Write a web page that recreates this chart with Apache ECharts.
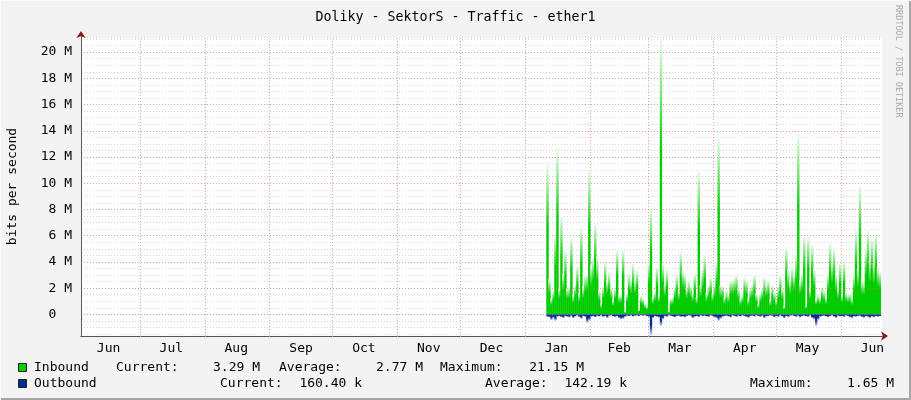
<!DOCTYPE html>
<html>
<head>
<meta charset="utf-8">
<script src="https://cdn.jsdelivr.net/npm/echarts@6/dist/echarts.min.js"></script>
<style>
html,body{margin:0;padding:0;background:#f3f3f3;}
#c{width:911px;height:400px;}
</style>
</head>
<body>
<div id="c"></div>
<script>
// ---- data ----
var titleText = 'Doliky - SektorS - Traffic - ether1';
var axisStart = '2012-06-02T20:00:00Z';
var axisEnd = '2013-06-20T14:00:00Z';
var dataStart = '2013-01-11T18:00:00Z';
var dataEnd = '2013-06-19T14:00:00Z';
var monthStarts = ['2012-07-01','2012-08-01','2012-09-01','2012-10-01','2012-11-01','2012-12-01','2013-01-01','2013-02-01','2013-03-01','2013-04-01','2013-05-01','2013-06-01'];
var monthLabelDates = ['2012-06-16','2012-07-16','2012-08-16','2012-09-16','2012-10-16','2012-11-16','2012-12-16','2013-01-16','2013-02-15','2013-03-16','2013-04-16','2013-05-16','2013-06-16'];
var monthLabels = ['Jun','Jul','Aug','Sep','Oct','Nov','Dec','Jan','Feb','Mar','Apr','May','Jun'];
// inbound, Mbit/s
var inbound = [
 11.5, 2.7, 1.2, 1.8, 6.2, 12.7, 2.0, 7.5, 3.1, 4.9, 2.0, 2.1, 5.9, 1.5, 2.3, 3.7, 1.6, 6.6, 2.1, 3.0, 3.1, 11.1, 3.7, 4.3, 7.0, 4.4, 1.8, 0.8, 2.1, 4.0, 2.6, 3.2, 2.1, 1.1, 2.0, 4.9, 1.5, 1.5, 4.9, 0.2, 1.6, 3.1,
 2.6, 3.9, 2.6, 3.4, 0.35, 1.4, 1.2, 0.8, 0.6, 4.0, 8.1, 1.3, 1.7, 3.6, 1.5, 21.15, 3.9, 2.3, 3.4, 0.2, 1.2, 1.3, 2.1, 3.0, 1.8, 4.8, 3.4, 3.1, 2.0, 2.6, 2.2, 1.6, 3.1, 1.3, 11.0, 2.2, 3.4, 4.5, 1.6, 2.2, 2.8, 1.6,
 2.3, 4.0, 13.5, 2.2, 2.2, 1.3, 1.8, 1.5, 2.6, 2.6, 2.8, 3.0, 2.0, 1.2, 1.5, 2.8, 2.6, 1.2, 2.0, 2.3, 3.0, 1.6, 0.8, 1.6, 2.0, 2.8, 2.3, 2.6, 1.1, 2.2, 1.7, 1.1, 2.1, 3.0, 2.0, 0.6, 5.1, 3.4, 2.6, 3.6, 3.1, 4.5,
 13.8, 2.6, 3.1, 6.0, 0.7, 5.9, 2.0, 5.3, 3.5, 1.2, 1.5, 1.3, 2.1, 1.8, 1.3, 3.1, 5.4, 4.0, 5.0, 3.1, 2.0, 3.9, 1.5, 4.0, 1.7, 1.5, 1.6, 1.2, 3.0, 6.4, 3.5, 9.8, 2.6, 2.5, 4.9, 6.4, 4.1, 5.8, 3.9, 6.2, 3.6, 3.29
];
// outbound, Mbit/s (drawn below zero)
var outbound = [
 0.20,0.25,0.45,0.30,0.50,0.20,0.15,0.25,0.30,0.15,
 0.20,0.25,0.12,0.30,0.18,0.10,0.22,0.35,0.15,0.20,
 0.66,0.50,0.20,0.15,0.25,0.12,0.18,0.10,0.20,0.15,
 0.28,0.12,0.10,0.18,0.22,0.15,0.30,0.40,0.35,0.20,
 0.12,0.15,0.10,0.18,0.12,0.10,0.15,0.08,0.12,0.10,
 0.15,0.20,1.65,0.30,0.15,0.20,0.25,0.90,0.40,0.15,
 0.20,0.10,0.12,0.18,0.25,0.15,0.12,0.20,0.18,0.25,
 0.15,0.10,0.12,0.30,0.20,0.15,0.22,0.10,0.15,0.12,
 0.18,0.20,0.10,0.15,0.25,0.30,0.50,0.35,0.20,0.15,
 0.12,0.18,0.25,0.10,0.15,0.20,0.12,0.18,0.10,0.15,
 0.22,0.28,0.15,0.12,0.18,0.10,0.15,0.20,0.12,0.30,
 0.18,0.15,0.10,0.12,0.25,0.15,0.20,0.10,0.18,0.30,
 0.15,0.22,0.12,0.10,0.15,0.20,0.12,0.25,0.15,0.12,
 0.18,0.20,0.10,0.30,0.40,0.90,0.45,0.20,0.15,0.12,
 0.18,0.25,0.15,0.10,0.20,0.28,0.12,0.18,0.15,0.20,
 0.10,0.15,0.25,0.30,0.18,0.20,0.15,0.12,0.22,0.28,
 0.15,0.20,0.30,0.18,0.25,0.15,0.20,0.16
];
var yMin = -1.65, yMax = 21.15;
var legendRows = [
  {name:'Inbound', cur:'3.29 M', avg:'2.77 M', max:'21.15 M'},
  {name:'Outbound', cur:'160.40 k', avg:'142.19 k', max:'1.65 M'}
];
var watermark = 'RRDTOOL / TOBI OETIKER';

// ---- build ----
var MONO = '"DejaVu Sans Mono", "Liberation Mono", monospace';
var M = 1e6;
var t0 = Date.parse(dataStart), t1 = Date.parse(dataEnd);
var step = (t1 - t0) / (inbound.length - 1);
var inData = inbound.map(function (v, i) { return [t0 + i * step, v * M]; });
var outData = outbound.map(function (v, i) { return [t0 + i * step, -v * M]; });
var labelTs = monthLabelDates.map(function (d) { return Date.parse(d + 'T00:00:00Z'); });
var monthTs = monthStarts.map(function (d) { return Date.parse(d + 'T00:00:00Z'); });
var xMin = Date.parse(axisStart), xMax = Date.parse(axisEnd);

var chart = echarts.init(document.getElementById('c'), null, {renderer: 'canvas'});

var gridLeft = 81, gridTop = 37, gridW = 801, gridH = 299;

function yLabel(v) {
  var m = v / M;
  if (Math.abs(m - Math.round(m)) > 1e-6 || Math.round(m) % 2 !== 0) return '';
  if (Math.round(m) === 0) return '0  ';
  return Math.round(m) + ' M';
}

var graphics = [
  {type:'rect', shape:{x:0,y:398,width:911,height:2}, style:{fill:'#a6a6a6'}, silent:true},
  {type:'rect', shape:{x:909,y:0,width:2,height:400}, style:{fill:'#a6a6a6'}, silent:true},
  {type:'rect', shape:{x:0,y:0,width:911,height:1}, style:{fill:'#fcfcfc'}, silent:true},
  {type:'rect', shape:{x:0,y:0,width:1,height:400}, style:{fill:'#fcfcfc'}, silent:true},
  {type:'text', x:898, y:5, rotation:-Math.PI/2,
    style:{text: watermark, font:'8.5px ' + MONO, fill:'#a8a8a8', textAlign:'left', textVerticalAlign:'middle'}, silent:true}
];
var rowY = [368, 384];
var legendPos = [
  {cur:116, curV:260, avg:279, avgV:423, max:440, maxV:584},
  {cur:220, curV:362, avg:485, avgV:627, max:750, maxV:894}
];
var legendColors = ['#00cf00', '#002a97'];
legendRows.forEach(function (r, i) {
  var y = rowY[i], p = legendPos[i];
  var font = '13px ' + MONO;
  function txt(x, s, align) {
    graphics.push({type:'text', x:x, y:y, style:{text:s, font:font, fill:'#000', textAlign:align, textVerticalAlign:'middle'}, silent:true});
  }
  graphics.push({type:'rect', shape:{x:18.5,y:y-4.5,width:8,height:8}, style:{fill:legendColors[i], stroke:'#222', lineWidth:1}, silent:true});
  txt(34, r.name, 'left');
  txt(p.cur, 'Current:', 'left');
  txt(p.curV, r.cur, 'right');
  txt(p.avg, 'Average:', 'left');
  txt(p.avgV, r.avg, 'right');
  txt(p.max, 'Maximum:', 'left');
  txt(p.maxV, r.max, 'right');
});

var option = {
  animation: false,
  backgroundColor: '#f3f3f3',
  title: {
    text: titleText, left: 'center', top: 6,
    textStyle: {fontFamily: MONO, fontSize: 13.3, fontWeight: 'normal', color: '#000'}
  },
  grid: {left: gridLeft, top: gridTop, width: gridW, height: gridH, show: true, backgroundColor: '#ffffff', borderWidth: 0,
         containLabel: false, outerBoundsMode: 'none'},
  xAxis: [{
    type: 'value', min: xMin, max: xMax, z: 3,
    axisLine: {show: true, onZero: false, lineStyle: {color: '#555', width: 1}},
    axisTick: {show: true, customValues: monthTs, length: 3, lineStyle: {color: '#f08080', type: [1, 2]}},
    splitLine: {show: false},
    axisLabel: {
      customValues: labelTs, margin: 6, showMinLabel: true, showMaxLabel: true,
      fontFamily: MONO, fontSize: 13, color: '#000',
      formatter: function (v) { var i = labelTs.indexOf(v); return i >= 0 ? monthLabels[i] : ''; }
    }
  }, {
    type: 'value', min: xMin, max: xMax, z: 1, position: 'bottom',
    axisLine: {show: true, onZero: false, symbol: ['none', 'arrow'], symbolSize: [7, 7], symbolOffset: [0, 6], lineStyle: {color: '#8b1a1a', width: 1}},
    axisTick: {show: false}, axisLabel: {show: false}, splitLine: {show: false}
  }],
  yAxis: [{
    type: 'value', min: yMin * M, max: yMax * M, splitNumber: 11, z: 3,
    name: 'bits per second', nameLocation: 'middle', nameRotate: 90, nameGap: 62,
    nameTextStyle: {fontFamily: MONO, fontSize: 13, color: '#000'},
    axisLine: {show: true, onZero: false, lineStyle: {color: '#555', width: 1}},
    axisTick: {show: false},
    axisLabel: {interval: 0, margin: 9, fontFamily: MONO, fontSize: 13, color: '#000', formatter: yLabel, showMinLabel: false, showMaxLabel: false},
    splitLine: {show: true, showMinLine: false, showMaxLine: false, lineStyle: {color: 'rgba(240,100,100,0.55)', type: [1, 2], width: 1}}
  }, {
    type: 'value', min: yMin * M, max: yMax * M, splitNumber: 46, z: 1, position: 'left',
    axisLine: {show: true, onZero: false, symbol: ['none', 'arrow'], symbolSize: [7, 7], symbolOffset: [0, 6], lineStyle: {color: '#8b1a1a', width: 1}},
    axisTick: {show: false}, axisLabel: {show: false},
    splitLine: {show: true, showMinLine: false, showMaxLine: true, lineStyle: {color: '#d6d6d6', type: [1, 2], width: 1}}
  }],
  series: [{
    name: 'Inbound', type: 'bar', xAxisIndex: 0, yAxisIndex: 0, z: 2,
    barWidth: 2.4, barGap: '-100%', data: inData,
    itemStyle: {color: new echarts.graphic.LinearGradient(0, 0, 0, 1, [
      {offset: 0, color: '#f2fcf2'}, {offset: 0.42, color: '#00cc00'}, {offset: 1, color: '#00cc00'}])},
    markLine: {
      silent: true, symbol: ['none', 'none'], z: 1, label: {show: false},
      lineStyle: {color: 'rgba(240,100,100,0.6)', type: [1, 2], width: 1},
      data: monthTs.map(function (t) { return {xAxis: t}; })
    }
  }, {
    name: 'Outbound', type: 'bar', xAxisIndex: 0, yAxisIndex: 0, z: 2,
    barWidth: 2.4, barGap: '-100%', data: outData,
    itemStyle: {color: new echarts.graphic.LinearGradient(0, 0, 0, 1, [
      {offset: 0, color: '#002a97'}, {offset: 0.5, color: '#002a97'}, {offset: 1, color: '#e6eaf6'}])}
  }],
  graphic: graphics
};
chart.setOption(option);
</script>
</body>
</html>
